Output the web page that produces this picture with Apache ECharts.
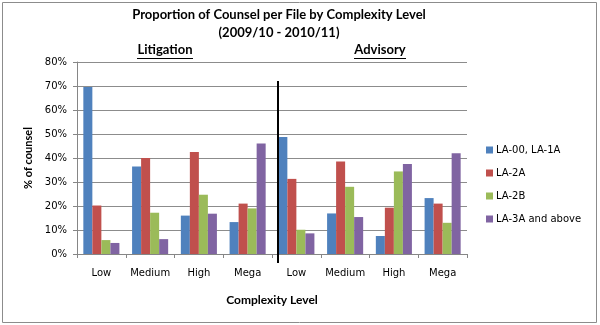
<!DOCTYPE html>
<html>
<head>
<meta charset="utf-8">
<script src="https://cdn.jsdelivr.net/npm/echarts@6/dist/echarts.min.js"></script>
<style>
  html, body { margin: 0; padding: 0; background: #fff; }
  #chart { width: 600px; height: 325px; }
</style>
</head>
<body>
<div id="chart"></div>
<script>
var levels = ["Low", "Medium", "High", "Mega"];
var seriesNames = ["LA-00, LA-1A", "LA-2A", "LA-2B", "LA-3A and above"];
var colors = ["#4F81BD", "#C0504D", "#9BBB59", "#8064A2"];

// values in %, per series: Low, Medium, High, Mega
var litigation = [
  [69.6, 36.5, 16.0, 13.3],
  [20.2, 40.0, 42.5, 21.0],
  [5.8, 17.2, 24.7, 19.0],
  [4.6, 6.2, 16.8, 46.0]
];
var advisory = [
  [48.8, 16.9, 7.5, 23.3],
  [31.3, 38.5, 19.3, 21.0],
  [10.1, 28.0, 34.4, 13.0],
  [8.6, 15.4, 37.5, 42.0]
];
var yTicks = [0, 10, 20, 30, 40, 50, 60, 70, 80];

var chart = echarts.init(document.getElementById("chart"));
var titleFont = "Lato, 'Open Sans', sans-serif";
var tickFont = "'DejaVu Sans', Verdana, sans-serif";

var series = seriesNames.map(function (name, i) {
  return {
    name: name,
    type: "bar",
    data: litigation[i].concat(advisory[i]),
    barGap: "0%",
    barCategoryGap: "26%",
    itemStyle: { color: colors[i] }
  };
});

var option = {
  animation: false,
  textStyle: { fontFamily: tickFont },
  title: [
    {
      text: "Proportion of Counsel per File by Complexity Level\n(2009/10 - 2010/11)",
      left: 279, top: 6, textAlign: "center", padding: 0,
      textStyle: { fontFamily: titleFont, fontWeight: "bold", fontSize: 13, lineHeight: 18, color: "#000" }
    },
    {
      text: "Litigation",
      left: 165, top: 43, textAlign: "center", padding: 0,
      textStyle: { fontFamily: titleFont, fontWeight: "bold", fontSize: 13, color: "#000" }
    },
    {
      text: "Advisory",
      left: 380, top: 43, textAlign: "center", padding: 0,
      textStyle: { fontFamily: titleFont, fontWeight: "bold", fontSize: 13, color: "#000" }
    }
  ],
  legend: {
    orient: "vertical",
    left: 486, top: 145, padding: 0,
    itemWidth: 7, itemHeight: 7, itemGap: 13,
    icon: "rect",
    data: seriesNames,
    textStyle: { fontFamily: tickFont, fontSize: 10, color: "#000", padding: [0, 0, 0, -2] }
  },
  grid: { left: 77, right: 133, top: 62, bottom: 71, containLabel: false },
  xAxis: {
    type: "category",
    data: levels.concat(levels),
    name: "Complexity Level",
    nameLocation: "middle",
    nameGap: 40,
    nameTextStyle: { fontFamily: titleFont, fontWeight: "bold", fontSize: 12, color: "#000" },
    axisLine: { lineStyle: { color: "#868686" } },
    axisTick: { show: true, length: 4, lineStyle: { color: "#868686" } },
    axisLabel: { color: "#000", fontSize: 10, margin: 14, interval: 0 }
  },
  yAxis: {
    type: "value",
    min: 0, max: 80, interval: 10,
    name: "% of counsel",
    nameLocation: "middle",
    nameGap: 43,
    nameRotate: 90,
    nameTextStyle: { fontFamily: titleFont, fontWeight: "bold", fontSize: 11, color: "#000" },
    axisLine: { show: true, lineStyle: { color: "#868686" } },
    axisTick: { show: true, length: 4, lineStyle: { color: "#868686" } },
    axisLabel: {
      color: "#000", fontSize: 10, margin: 10,
      formatter: function (v) { return yTicks.indexOf(v) >= 0 ? v + "%" : ""; }
    },
    splitLine: { show: true, lineStyle: { color: "#8c8c8c", width: 1 } }
  },
  series: series,
  graphic: [
    {
      type: "rect",
      shape: { x: 2.5, y: 2.5, width: 594, height: 320 },
      style: { fill: null, stroke: "#8c8c8c", lineWidth: 1 },
      silent: true
    },
    {
      type: "line",
      shape: { x1: 278, y1: 81, x2: 278, y2: 263 },
      style: { stroke: "#000", lineWidth: 2 },
      z: 100, silent: true
    },
    {
      type: "line",
      shape: { x1: 137, y1: 58.5, x2: 193, y2: 58.5 },
      style: { stroke: "#000", lineWidth: 1 },
      silent: true
    },
    {
      type: "line",
      shape: { x1: 354, y1: 58.5, x2: 406, y2: 58.5 },
      style: { stroke: "#000", lineWidth: 1 },
      silent: true
    }
  ]
};

chart.setOption(option);
</script>
</body>
</html>
